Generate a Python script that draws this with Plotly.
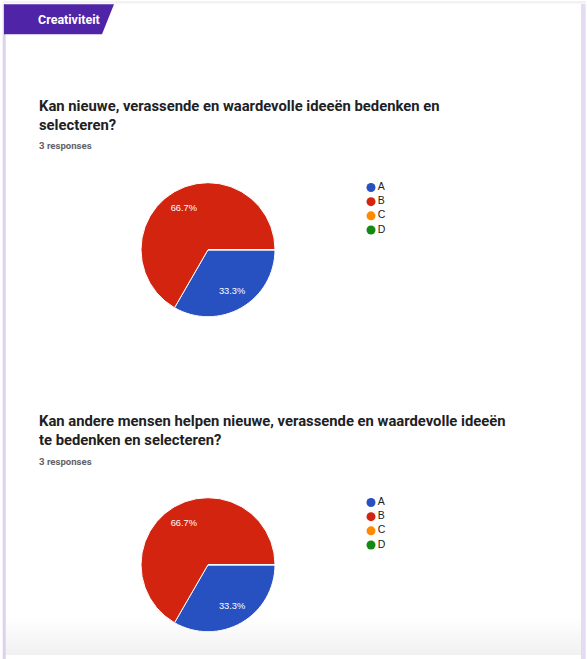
import plotly.graph_objects as go

W, H = 587, 659

# ---- data ----
labels = ["A", "B", "C", "D"]
colors = ["#2750c1", "#d2240f", "#ff8a00", "#148a14"]
q1_values = [1, 2, 0, 0]
q2_values = [1, 2, 0, 0]
q1_title = "Kan nieuwe, verassende en waardevolle ideeën bedenken en<br>selecteren?"
q2_title = "Kan andere mensen helpen nieuwe, verassende en waardevolle ideeën<br>te bedenken en selecteren?"
q1_responses = "3 responses"
q2_responses = "3 responses"
section_title = "Creativiteit"


def px(x):
    return x / W


def py(y):
    return 1 - y / H


fig = go.Figure()

pie_x = [px(140.7), px(275.3)]
pies = [
    (q1_values, [py(316.7), py(182.7)]),
    (q2_values, [py(631.7), py(497.7)]),
]
for vals, ydom in pies:
    # coloured slices
    fig.add_trace(go.Pie(
        labels=labels, values=vals, sort=False, direction="clockwise", rotation=90,
        marker=dict(colors=colors, line=dict(color="white", width=1)),
        textinfo="none", domain=dict(x=pie_x, y=ydom), showlegend=False,
        hoverinfo="label+percent",
    ))
    # transparent ring carrying the percentage labels (places them further out)
    fig.add_trace(go.Pie(
        labels=labels, values=vals, sort=False, direction="clockwise", rotation=90,
        hole=0.44, marker=dict(colors=["rgba(0,0,0,0)"] * len(labels),
                               line=dict(width=0)),
        texttemplate=["%{percent:.1%}" if v > 0 else "" for v in vals],
        textposition="inside", insidetextorientation="horizontal",
        textfont=dict(family="Liberation Sans, Arial", size=9.3, color="white"),
        domain=dict(x=pie_x, y=ydom), showlegend=False, hoverinfo="skip",
    ))

# legends drawn as small scatter traces on hidden axes
leg_specs = [("x", "y", 187.5, 230), ("x2", "y2", 502.5, 545)]
for i, (xa, ya, top, bot) in enumerate(leg_specs):
    fig.add_trace(go.Scatter(
        x=[0] * len(labels), y=labels, xaxis=xa, yaxis=ya,
        mode="markers+text", text=labels, textposition="middle right",
        marker=dict(size=9, color=colors), cliponaxis=False,
        textfont=dict(family="Liberation Sans, Arial", size=10.5, color="#222222"),
        showlegend=False, hoverinfo="skip",
    ))
    step = (bot - top) / 3
    dom = [py(bot + step / 2), py(top - step / 2)]
    sfx = "" if i == 0 else "2"
    fig.layout["xaxis" + sfx] = dict(domain=[px(371), px(471)], range=[0, 1], visible=False,
                                     fixedrange=True, anchor="y" + sfx)
    fig.layout["yaxis" + sfx] = dict(domain=dom, type="category", range=[3.5, -0.5],
                                     visible=False, fixedrange=True, anchor="x" + sfx)

shapes = []
# card top border
shapes.append(dict(type="rect", xref="paper", yref="paper", x0=px(3), x1=px(586),
                   y0=py(3.5), y1=py(1), fillcolor="#f2f2f2", line_width=0, layer="below"))
# bottom gradient
n = 14
for k in range(n):
    y0 = 618 + k * (655 - 618) / n
    shapes.append(dict(type="rect", xref="paper", yref="paper", x0=px(5), x1=px(581),
                       y0=py(655), y1=py(y0), fillcolor="#000000", opacity=0.0045,
                       line_width=0, layer="below"))
# side borders
shapes.append(dict(type="rect", xref="paper", yref="paper", x0=px(2.7), x1=px(5.7),
                   y0=py(659), y1=py(4), fillcolor="#dcd2ee", line_width=0))
shapes.append(dict(type="rect", xref="paper", yref="paper", x0=px(581), x1=px(585.7),
                   y0=py(659), y1=py(4), fillcolor="#e4dcf2", line_width=0))
# purple section tab
tab = [(4, 4.3), (114, 4.3), (102, 34.3), (4, 34.3)]
path = "M " + " L ".join(f"{px(a):.5f},{py(b):.5f}" for a, b in tab) + " Z"
shapes.append(dict(type="path", xref="paper", yref="paper", path=path,
                   fillcolor="#5024a6", line_width=0))

title_font = dict(family="Roboto", size=14.8, color="#202124", weight="bold")
resp_font = dict(family="Roboto", size=9.6, color="#5f6368", weight="bold")
annotations = [
    dict(text=section_title, x=px(36), y=py(19.5), xref="paper", yref="paper",
         xanchor="left", yanchor="middle", showarrow=False,
         font=dict(family="Roboto", size=12.5, color="white", weight="bold")),
    dict(text=q1_title, x=px(36.5), y=py(115), xref="paper", yref="paper",
         xanchor="left", yanchor="middle", align="left", showarrow=False, font=title_font),
    dict(text=q1_responses, x=px(36.5), y=py(146), xref="paper", yref="paper",
         xanchor="left", yanchor="middle", showarrow=False, font=resp_font),
    dict(text=q2_title, x=px(36.5), y=py(430), xref="paper", yref="paper",
         xanchor="left", yanchor="middle", align="left", showarrow=False, font=title_font),
    dict(text=q2_responses, x=px(36.5), y=py(461), xref="paper", yref="paper",
         xanchor="left", yanchor="middle", showarrow=False, font=resp_font),
]

fig.update_layout(
    width=W, height=H, margin=dict(l=0, r=0, t=0, b=0),
    paper_bgcolor="white", plot_bgcolor="rgba(0,0,0,0)",
    shapes=shapes, annotations=annotations, showlegend=False,
)

fig.write_html(
    "out.html", config={"displayModeBar": False},
    post_script="document.body.style.margin='0';document.body.style.overflow='hidden';",
)
